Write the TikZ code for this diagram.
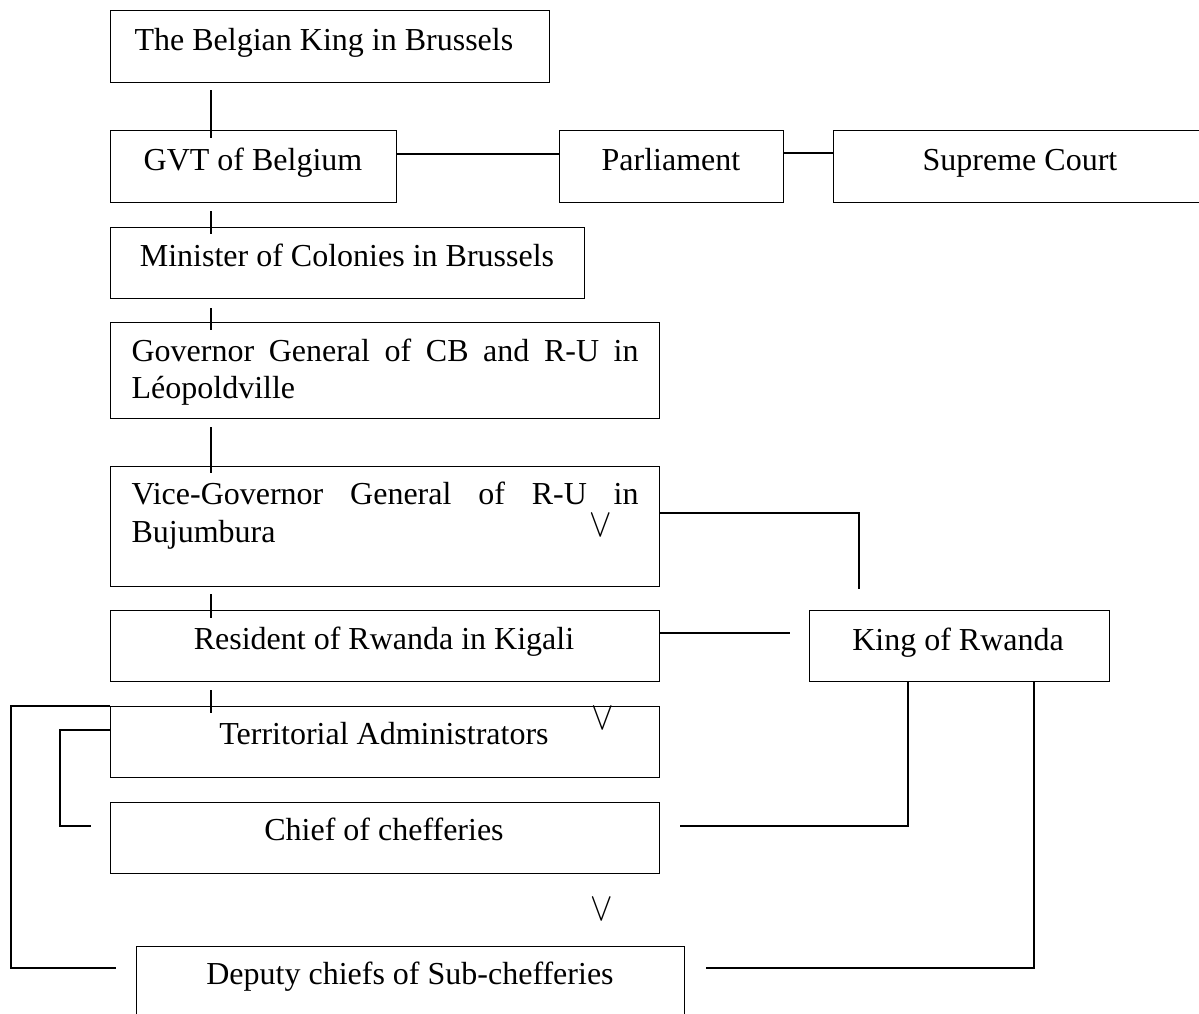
\RequirePackage{fix-cm}
\documentclass[tikz,border=0pt]{standalone}
\usepackage{fontspec}
\setmainfont{Liberation Serif}
\usepackage{graphicx}
\usetikzlibrary{calc}
\begin{document}
\begin{tikzpicture}[x=1pt,y=-1pt,line width=1.2pt,
  box/.style={draw,rectangle,inner sep=0pt,anchor=north west,line width=1.2pt},
  lbl/.style={inner sep=0pt,anchor=base,font=\fontsize{32}{37}\selectfont},
  lbll/.style={inner sep=0pt,anchor=base west,font=\fontsize{32}{37}\selectfont},
  vmk/.style={inner sep=0pt,anchor=north,font=\fontsize{32}{37}\selectfont},
  conn/.style={draw,line width=1.2pt}]
\useasboundingbox (0,0) rectangle (1199,1013);
\clip (0,0) rectangle (1199,1013);
% boxes
\node[box,minimum width=439pt,minimum height=72pt] (b1) at (110,10) {};
\node[box,minimum width=286pt,minimum height=72pt] (b2) at (110,130) {};
\node[box,minimum width=224pt,minimum height=72pt] (b3) at (559,130) {};
\node[box,minimum width=374pt,minimum height=72pt] (b4) at (833,130) {};
\node[box,minimum width=474pt,minimum height=71pt] (b5) at (110,227) {};
\node[box,minimum width=549pt,minimum height=96pt] (b6) at (110,322) {};
\node[box,minimum width=549pt,minimum height=120pt] (b7) at (110,466) {};
\node[box,minimum width=549pt,minimum height=71pt] (b8) at (110,610) {};
\node[box,minimum width=300pt,minimum height=71pt] (b9) at (809,610) {};
\node[box,minimum width=549pt,minimum height=71pt] (b10) at (110,706) {};
\node[box,minimum width=549pt,minimum height=71pt] (b11) at (110,802) {};
\node[box,minimum width=548pt,minimum height=71pt] (b12) at (136,946) {};
% labels
\node[lbll] (t1) at (134,50) {The Belgian King in Brussels};
\node[lbl] (t2) at (253,170) {GVT of Belgium};
\node[lbl] (t3) at (671,170) {Parliament};
\node[lbl] (t4) at (1020,170) {Supreme Court};
\node[lbl] (t5) at (347,266) {Minister of Colonies in Brussels};
\node[lbll] (t6) at (131,361) {\makebox[507pt][s]{Governor General of CB and R-U in}};
\node[lbll] (t6b) at (131,398) {Léopoldville};
\node[lbll] (t7) at (131,504) {\makebox[507pt][s]{Vice-Governor General of R-U in}};
\node[lbll] (t7b) at (131,542) {Bujumbura};
\node[lbl] (t8) at (384,649) {Resident of Rwanda in Kigali};
\node[lbl] (t9) at (958,650) {King of Rwanda};
\node[lbl] (t10) at (384,744) {Territorial Administrators};
\node[lbl] (t11) at (384,840) {Chief of chefferies};
\node[lbl] (t12) at (410,984) {Deputy chiefs of Sub-chefferies};
% check marks
\node[vmk] (v1) at (601,514) {\scalebox{1.05}[1.25]{$\vee$}};
\node[vmk] (v2) at (603,707) {\scalebox{1.05}[1.25]{$\vee$}};
\node[vmk] (v3) at (602,898) {\scalebox{1.05}[1.25]{$\vee$}};
% connectors
\draw[conn] ($(b1.south west)+(101,7)$) -- ($(b2.north west)+(101,8)$);
\draw[conn] ($(b2.north east)+(0,24)$) -- ($(b3.north west)+(0,24)$);
\draw[conn] ($(b3.north east)+(0,23)$) -- ($(b4.north west)+(0,23)$);
\draw[conn] ($(b2.south west)+(101,8)$) -- ($(b5.north west)+(101,7)$);
\draw[conn] ($(b5.south west)+(101,9)$) -- ($(b6.north west)+(101,8)$);
\draw[conn] ($(b6.south west)+(101,8)$) -- ($(b7.north west)+(101,7)$);
\draw[conn] ($(b7.south west)+(101,7)$) -- ($(b8.north west)+(101,8)$);
\draw[conn] ($(b7.north east)+(0,47)$) -| ($(b9.north west)+(50,-21)$);
\draw[conn] ($(b8.north east)+(0,23)$) -- ($(b9.north west)+(-19,23)$);
\draw[conn] ($(b8.south west)+(101,8)$) -- ($(b10.north west)+(101,7)$);
\draw[conn] (b10.north west) -- ++(-99,0) |- ($(b12.north west)+(-20,22)$);
\draw[conn] ($(b10.north west)+(0,24)$) -- ++(-50,0) |- ($(b11.north west)+(-19,24)$);
\draw[conn] ($(b11.north east)+(20,24)$) -| ($(b9.south west)+(99,0)$);
\draw[conn] ($(b9.south west)+(225,0)$) |- ($(b12.north east)+(21,22)$);
\end{tikzpicture}
\end{document}
